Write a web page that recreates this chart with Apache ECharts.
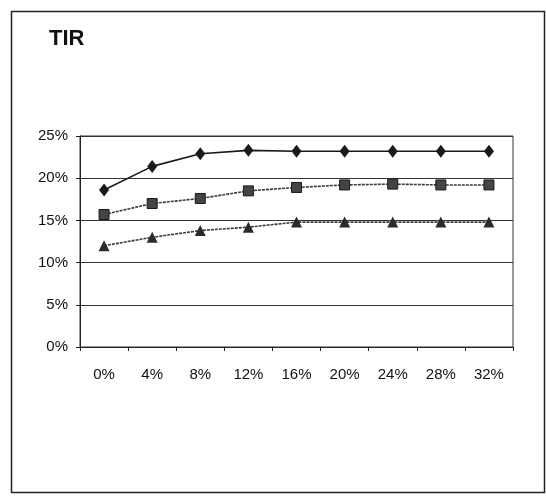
<!DOCTYPE html>
<html><head><meta charset="utf-8">
<script src="https://cdn.jsdelivr.net/npm/echarts@6/dist/echarts.min.js"></script>
<style>html,body{margin:0;padding:0;background:#fff}#c{width:546px;height:496px}</style>
</head><body><div id="c"></div>
<script>
var categories = ['0%','4%','8%','12%','16%','20%','24%','28%','32%'];
var seriesDiamond = [18.6, 21.4, 22.9, 23.3, 23.2, 23.2, 23.2, 23.2, 23.2];
var seriesSquare = [15.7, 17.0, 17.6, 18.5, 18.9, 19.2, 19.3, 19.2, 19.2];
var seriesTriangle = [12.0, 13.0, 13.8, 14.2, 14.8, 14.8, 14.8, 14.8, 14.8];
var yTicks = [0, 5, 10, 15, 20, 25];

var chart = echarts.init(document.getElementById('c'));
var font = 'Liberation Sans, Arial, sans-serif';
chart.setOption({
  animation: false,
  backgroundColor: '#fff',
  textStyle: {fontFamily: font},
  title: {text: 'TIR', left: 44, top: 23, textStyle: {fontFamily: font, fontSize: 22, fontWeight: 'bold', color: '#111'}},
  graphic: [{type: 'rect', shape: {x: 11.5, y: 11.5, width: 533, height: 481}, style: {fill: 'none', stroke: '#222', lineWidth: 1.5}}],
  grid: {left: 80, right: 33, top: 136, bottom: 149, show: true, borderColor: '#333', borderWidth: 1},
  xAxis: {
    type: 'category', data: categories, boundaryGap: true,
    axisLine: {lineStyle: {color: '#222'}},
    axisTick: {show: true, alignWithLabel: false, length: 4, lineStyle: {color: '#222'}},
    axisLabel: {color: '#111', fontSize: 15, margin: 20, fontFamily: font}
  },
  yAxis: {
    type: 'value', min: yTicks[0], max: yTicks[yTicks.length-1], interval: 5,
    axisLine: {show: true, lineStyle: {color: '#222'}},
    axisTick: {show: true, length: 4, lineStyle: {color: '#222'}},
    axisLabel: {color: '#111', fontSize: 15, margin: 12, formatter: '{value}%', fontFamily: font},
    splitLine: {show: true, lineStyle: {color: '#333', width: 1}}
  },
  series: [
    {type: 'line', data: seriesDiamond, symbol: 'diamond', symbolSize: [10, 13],
     lineStyle: {color: '#1a1a1a', width: 1.6}, itemStyle: {color: '#1a1a1a'}},
    {type: 'line', data: seriesSquare, symbol: 'rect', symbolSize: 10,
     lineStyle: {color: '#3a3a3a', width: 1.6, type: [3, 1]}, itemStyle: {color: '#444', borderColor: '#1a1a1a', borderWidth: 1}},
    {type: 'line', data: seriesTriangle, symbol: 'triangle', symbolSize: 11,
     lineStyle: {color: '#3a3a3a', width: 1.6, type: [3, 1]}, itemStyle: {color: '#2a2a2a'}}
  ]
});
</script></body></html>
